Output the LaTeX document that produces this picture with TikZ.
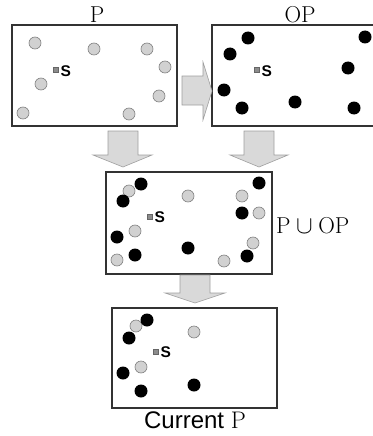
\documentclass[tikz,border=0pt]{standalone}
\usepackage{fontspec}
\setsansfont{Liberation Sans}
\begin{document}
\begin{tikzpicture}[x=1pt,y=-1pt,
  frame/.style={draw=black!80, line width=1.3pt, fill=white, inner sep=0pt},
  gdot/.style={circle, fill=black!18, draw=black!50, line width=0.6pt, minimum size=12pt, inner sep=0pt},
  bdot/.style={circle, fill=black, minimum size=13pt, inner sep=0pt},
  seed/.style={rectangle, fill=black!45, draw=black!60, line width=0.4pt, minimum size=5pt, inner sep=0pt},
  slabel/.style={anchor=base west, inner sep=0pt, font=\sffamily\bfseries\fontsize{15.5}{15.5}\selectfont},
  title/.style={anchor=base, inner sep=0pt, font=\fontsize{23}{23}\selectfont},
  blockarrow/.style={fill=black!15, draw=black!38, line width=0.6pt, line join=miter}]
\useasboundingbox (0,0) rectangle (372,436);

% population P
\node[frame, minimum width=165pt, minimum height=101pt] (P) at (94.5,75.5) {};
\node[title] (Ptitle) at (97,23) {P};
\foreach \x/\y in {35/43, 94/49, 147/49, 165/67, 41/84, 159/96, 23/113, 129/114}
  \node[gdot] at (\x,\y) {};
\node[seed] (sP) at (56,70) {};
\node[slabel] at (60.5,76) {S};

% opposite population OP
\node[frame, minimum width=166pt, minimum height=101pt] (OP) at (295,75.5) {};
\node[title] (OPtitle) at (300,23) {OP};
\foreach \x/\y in {248/38, 365/37, 230/54, 348/68, 224/90, 242/108, 295/102, 354/108}
  \node[bdot] at (\x,\y) {};
\node[seed] (sOP) at (257,70) {};
\node[slabel] at (261.5,76) {S};

% union of both
\node[frame, minimum width=166pt, minimum height=102pt] (U) at (189,223) {};
\node[anchor=base west, inner sep=0pt, font=\fontsize{23}{23}\selectfont] (Utitle) at (276,233) {$\mathrm{P}\cup\mathrm{OP}$};
\foreach \x/\y in {129/191, 188/196, 242/196, 259/213, 135/231, 253/243, 117/260, 224/261}
  \node[gdot] at (\x,\y) {};
\foreach \x/\y in {141/184, 123/201, 259/183, 242/213, 117/237, 188/248, 135/255, 247/256}
  \node[bdot] at (\x,\y) {};
\node[seed] (sU) at (150,217) {};
\node[slabel] at (154.5,222) {S};

% selected population
\node[frame, minimum width=165pt, minimum height=100pt] (C) at (194.5,358) {};
\node[anchor=base, inner sep=0pt, font=\sffamily\fontsize{24}{24}\selectfont] (Ctitle) at (195,428) {Current $\mathrm{P}$};
\foreach \x/\y in {136/326, 194/332, 141/367}
  \node[gdot] at (\x,\y) {};
\foreach \x/\y in {147/320, 129/338, 123/373, 141/391, 194/385}
  \node[bdot] at (\x,\y) {};
\node[seed] (sC) at (156,352) {};
\node[slabel] at (160.5,357.5) {S};

% block arrows
\draw[blockarrow] (182,76) -- (203,76) -- (203,62) -- (212,91) -- (203,120) -- (203,105) -- (182,105) -- cycle;
\draw[blockarrow] (108,131) -- (138,131) -- (138,155) -- (152,155) -- (123,167) -- (93,155) -- (108,155) -- cycle;
\draw[blockarrow] (244,131) -- (274,131) -- (274,155) -- (288,155) -- (259,167) -- (230,155) -- (244,155) -- cycle;
\draw[blockarrow] (180,275) -- (210,275) -- (210,293) -- (225,293) -- (195,303) -- (165,293) -- (180,293) -- cycle;
\end{tikzpicture}
\end{document}
